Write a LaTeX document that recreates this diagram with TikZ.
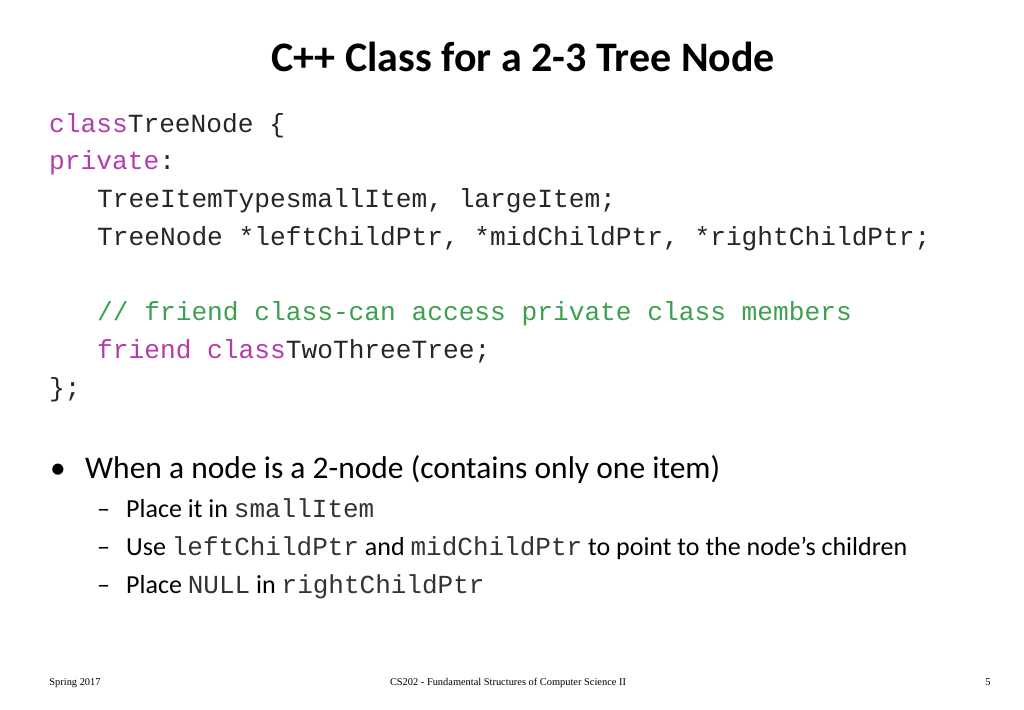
\documentclass[tikz,border=0pt]{standalone}
\usepackage{fontspec}
\setmainfont{Carlito}
\newfontfamily\codefont{Liberation Mono}
\newfontfamily\footfont{Liberation Serif}
\definecolor{kw}{RGB}{180,60,170}
\definecolor{cm}{RGB}{60,160,80}
\newcommand{\cd}[1]{{\codefont\fontsize{26}{26}\selectfont\color{black!80}#1}}
\begin{document}
\begin{tikzpicture}[x=1pt,y=-1pt,
  code/.style={anchor=base west,inner sep=0,text=black!85,font=\codefont\fontsize{26.2}{26}\selectfont},
  txt/.style={anchor=base west,inner sep=0,font=\fontsize{31.5}{31.5}\selectfont},
  sub/.style={anchor=base west,inner sep=0,font=\fontsize{26}{26}\selectfont},
  foot/.style={anchor=base,inner sep=0,font=\footfont\fontsize{10.4}{10.4}\selectfont}]
\useasboundingbox (0,0) rectangle (1024,709);
\node[anchor=base,inner sep=0,font=\bfseries\fontsize{42}{42}\selectfont] (title) at (523,71) {C++ Class for a 2-3 Tree Node};
\node[code] (l1) at (49,132) {\textcolor{kw}{class}TreeNode \{};
\node[code] (l2) at (49,169) {\textcolor{kw}{private}:};
\node[code] (l3) at (97,207) {TreeItemTypesmallItem, largeItem;};
\node[code] (l4) at (97,245) {TreeNode *leftChildPtr, *midChildPtr, *rightChildPtr;};
\node[code] (l5) at (97,320) {\textcolor{cm}{// friend class-can access private class members}};
\node[code] (l6) at (97,358) {\textcolor{kw}{friend class}TwoThreeTree;};
\node[code] (l7) at (49,396) {\};};
\node[txt] (b0) at (50,478) {•};
\node[txt] (b1) at (85,478) {When a node is a 2-node (contains only one item)};
\node[sub] (s0a) at (97,517) {–};
\node[sub] (s1) at (126,517) {Place it in \cd{smallItem}};
\node[sub] (s0b) at (97,555) {–};
\node[sub] (s2) at (126,555) {Use \cd{leftChildPtr} and \cd{midChildPtr} to point to the node’s children};
\node[sub] (s0c) at (97,593) {–};
\node[sub] (s3) at (126,593) {Place \cd{NULL} in \cd{rightChildPtr}};
\node[foot] (f1) at (75,685) {Spring 2017};
\node[foot] (f2) at (508,685) {CS202 - Fundamental Structures of Computer Science II};
\node[foot] (f3) at (988,685) {5};
\end{tikzpicture}
\end{document}
